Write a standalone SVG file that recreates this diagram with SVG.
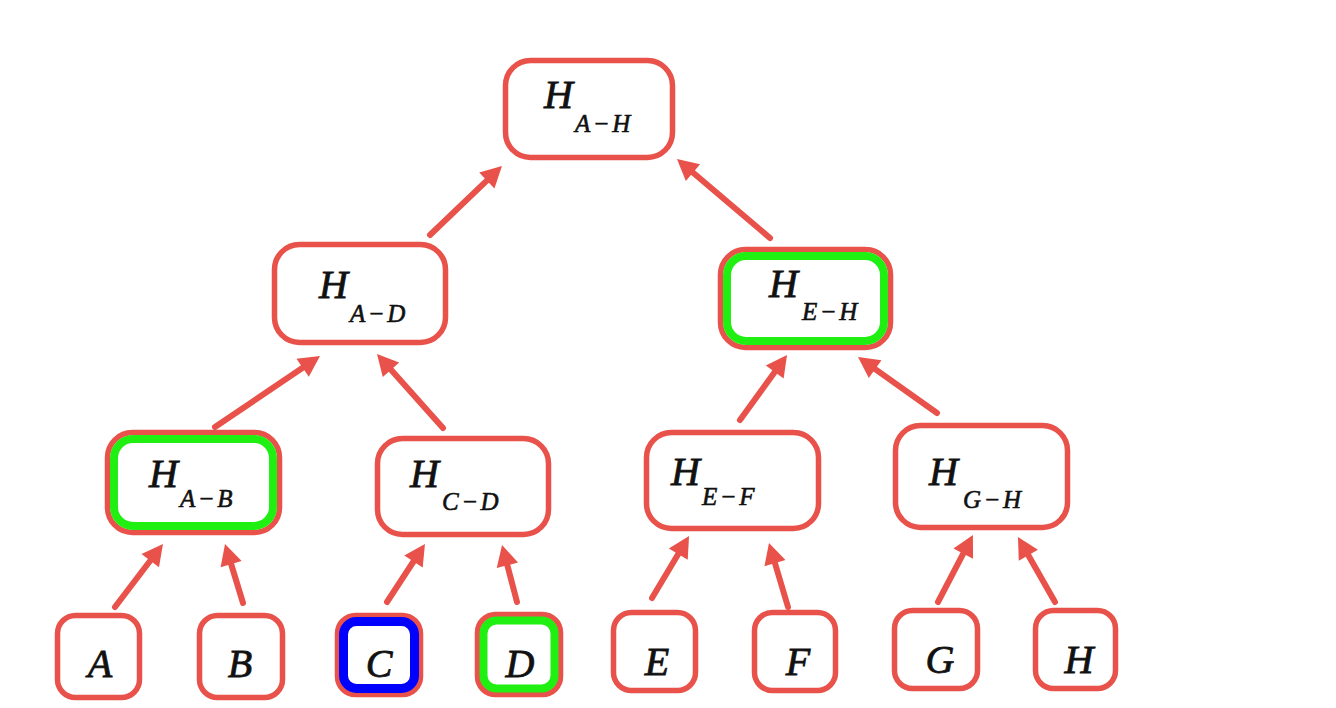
<svg xmlns="http://www.w3.org/2000/svg" width="1336" height="708" viewBox="0 0 1336 708">
<style>
.box{fill:#fff;stroke:#e8524a;stroke-width:5.5}
.g{fill:none;stroke:#1ff012;stroke-width:8}
.b{fill:none;stroke:#0000ff;stroke-width:9}
.t{font-family:"Liberation Serif","Times New Roman",serif;font-style:italic;font-size:40px;fill:#111;stroke:#111;stroke-width:0.8}
.s{font-size:25px;letter-spacing:2.5px;stroke-width:0.6}
.c line{stroke:#e8524a;stroke-width:6;stroke-linecap:round;marker-end:url(#ah)}
</style>
<defs>
<marker id="ah" markerUnits="userSpaceOnUse" markerWidth="40" markerHeight="40" refX="0" refY="0" orient="auto" overflow="visible">
<path d="M-9,-11 L12,0 L-9,11 Z" fill="#e8524a"/>
</marker>
</defs>
<g class="c" id="connectors">
<line x1="115" y1="607" x2="155.7" y2="553.5"/>
<line x1="243" y1="603" x2="228.5" y2="555.5"/>
<line x1="387" y1="602" x2="418.4" y2="554"/>
<line x1="517" y1="602" x2="505.1" y2="556.6"/>
<line x1="652" y1="598" x2="682.9" y2="546.3"/>
<line x1="788" y1="607" x2="772.4" y2="554.5"/>
<line x1="938" y1="602" x2="967.4" y2="545.6"/>
<line x1="1055" y1="602" x2="1023.9" y2="547.4"/>
<line x1="215" y1="427" x2="310.1" y2="362.7"/>
<line x1="443" y1="428" x2="385" y2="363"/>
<line x1="740" y1="420" x2="780" y2="364.7"/>
<line x1="937" y1="413" x2="867.8" y2="363.9"/>
<line x1="430" y1="235" x2="493.3" y2="174.3"/>
<line x1="770" y1="238" x2="686.1" y2="166.8"/>
</g>
<g id="n-root"><rect class="box" x="505.5" y="60.5" width="167" height="97" rx="25"/><text class="t" x="544" y="108">H<tspan class="s" x="575" y="132">A−H</tspan></text></g>
<g id="n-AD"><rect class="box" x="274.5" y="244.5" width="171" height="98" rx="25"/><text class="t" x="319" y="298">H<tspan class="s" x="350" y="322">A−D</tspan></text></g>
<g id="n-EH"><rect class="box" x="720.5" y="249.5" width="170" height="98" rx="25"/><rect class="g" x="727" y="256" width="157" height="85" rx="19"/><text class="t" x="769" y="297">H<tspan class="s" x="802" y="320">E−H</tspan></text></g>
<g id="n-AB"><rect class="box" x="107.5" y="432.5" width="172" height="100" rx="25"/><rect class="g" x="114" y="439" width="159" height="87" rx="19"/><text class="t" x="149" y="487">H<tspan class="s" x="180" y="507">A−B</tspan></text></g>
<g id="n-CD"><rect class="box" x="377.5" y="438.5" width="171" height="96" rx="25"/><text class="t" x="410" y="487">H<tspan class="s" x="442" y="510">C−D</tspan></text></g>
<g id="n-EF"><rect class="box" x="646.5" y="432.5" width="172" height="96" rx="25"/><text class="t" x="671" y="485">H<tspan class="s" x="702" y="505">E−F</tspan></text></g>
<g id="n-GH"><rect class="box" x="895.5" y="425.5" width="172" height="102" rx="25"/><text class="t" x="929" y="485">H<tspan class="s" x="963" y="508">G−H</tspan></text></g>
<g id="n-A"><rect class="box" x="57.5" y="615.5" width="82" height="82" rx="18"/><text class="t" x="100" y="677" text-anchor="middle">A</text></g>
<g id="n-B"><rect class="box" x="199.5" y="615.5" width="83" height="82" rx="18"/><text class="t" x="240" y="677" text-anchor="middle">B</text></g>
<g id="n-C"><rect class="box" x="337.5" y="615.5" width="83" height="79" rx="18"/><rect class="b" x="343.5" y="621.5" width="71" height="67" rx="13"/><text class="t" x="379" y="677" text-anchor="middle">C</text></g>
<g id="n-D"><rect class="box" x="477.5" y="614.5" width="83" height="80" rx="18"/><rect class="g" x="483.5" y="620.5" width="71" height="68" rx="13"/><text class="t" x="520" y="677" text-anchor="middle">D</text></g>
<g id="n-E"><rect class="box" x="613.5" y="612.5" width="82" height="78" rx="18"/><text class="t" x="657" y="675" text-anchor="middle">E</text></g>
<g id="n-F"><rect class="box" x="754.5" y="612.5" width="81" height="78" rx="18"/><text class="t" x="798" y="675" text-anchor="middle">F</text></g>
<g id="n-G"><rect class="box" x="894.5" y="610.5" width="83" height="78" rx="18"/><text class="t" x="940" y="673" text-anchor="middle">G</text></g>
<g id="n-H"><rect class="box" x="1035.5" y="610.5" width="80" height="78" rx="18"/><text class="t" x="1079" y="673" text-anchor="middle">H</text></g>
</svg>
